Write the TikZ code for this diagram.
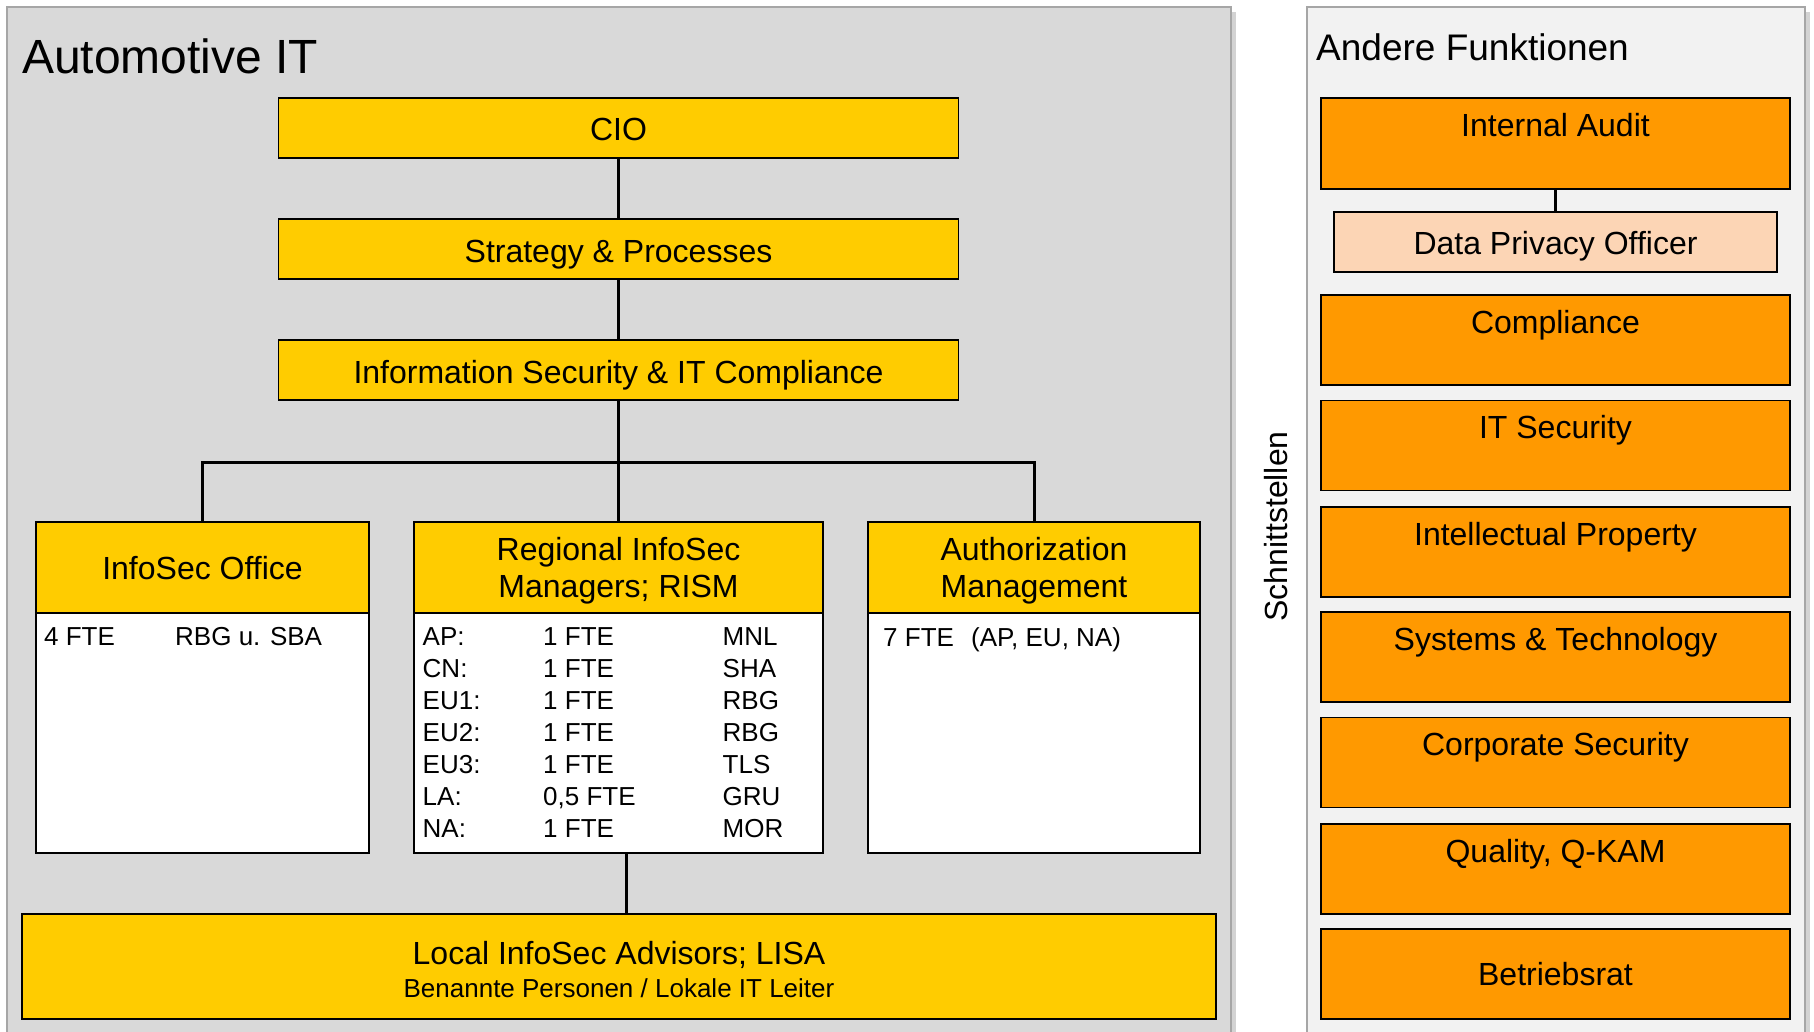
\documentclass[tikz,border=0pt]{standalone}
\usepackage{fontspec}
\setmainfont{Liberation Sans}
\usepackage{tikz}
\usetikzlibrary{shadows}
\pgfdeclarelayer{bg}
\pgfsetlayers{bg,main}
\definecolor{ityellow}{HTML}{FFCC00}
\definecolor{fnorange}{HTML}{FF9900}
\definecolor{fnpeach}{HTML}{FCD5B5}
\definecolor{panelgray}{HTML}{D9D9D9}
\definecolor{panellight}{HTML}{F2F2F2}
\definecolor{paneledge}{HTML}{A6A6A6}

\begin{document}
\begin{tikzpicture}[x=1pt,y=-1pt,
        box/.style={draw, line width=1.5pt, inner sep=0pt, font=\fontsize{32}{37}\selectfont},
        topbox/.style={box, fill=ityellow, minimum width=680pt, minimum height=60pt, text height=26pt, text depth=0pt},
        headbox/.style={box, fill=ityellow, align=center, minimum height=91pt, text depth=0pt},
        bodybox/.style={box, fill=white, minimum height=240pt},
        bodytext/.style={anchor=north west, inner sep=0pt, align=left, font=\fontsize{26}{32}\selectfont},
        funcbox/.style={box, fill=fnorange, minimum width=469pt, minimum height=90pt},
        functop/.style={funcbox, text height=38pt, text depth=52pt},
        panel/.style={line width=1.5pt, draw=paneledge, drop shadow={shadow xshift=5pt, shadow yshift=-5pt, opacity=0.35}},
        conn/.style={line width=3pt}]
        \useasboundingbox (0,0) rectangle (1814,1032);
        % Automotive IT
        \node (ttl) [anchor=base west, inner sep=0pt, font=\fontsize{48}{56}\selectfont] at (22,74) {Automotive IT};
        \node (cio) [topbox] at (618.5,128) {CIO};
        \node (strat) [topbox] at (618.5,249) {Strategy \& Processes};
        \node (isc) [topbox] at (618.5,370) {Information Security \& IT Compliance};
        \coordinate (bus) at (618.5,462);
        \node (isohead) [headbox, minimum width=333pt] at (202.5,567.5) {InfoSec Office};
        \node (isobody) [bodybox, minimum width=333pt] at (202.5,733) {};
        \node (rismhead) [headbox, minimum width=409pt] at (618.5,567.5) {Regional InfoSec\\Managers; RISM};
        \node (rismbody) [bodybox, minimum width=409pt] at (618.5,733) {};
        \node (authhead) [headbox, minimum width=332pt] at (1034,567.5) {Authorization\\Management};
        \node (authbody) [bodybox, minimum width=332pt] at (1034,733) {};
        \node (isotxt) [bodytext] at (44,627) {\makebox[131pt][l]{4 FTE}RBG u. SBA};
        \node (rismtxt) [bodytext] at (422.5,627) {%
                \makebox[120.5pt][l]{AP:}\makebox[179.5pt][l]{1 FTE}MNL\\
                \makebox[120.5pt][l]{CN:}\makebox[179.5pt][l]{1 FTE}SHA\\
                \makebox[120.5pt][l]{EU1:}\makebox[179.5pt][l]{1 FTE}RBG\\
                \makebox[120.5pt][l]{EU2:}\makebox[179.5pt][l]{1 FTE}RBG\\
                \makebox[120.5pt][l]{EU3:}\makebox[179.5pt][l]{1 FTE}TLS\\
                \makebox[120.5pt][l]{LA:}\makebox[179.5pt][l]{0,5 FTE}GRU\\
                \makebox[120.5pt][l]{NA:}\makebox[179.5pt][l]{1 FTE}MOR};
        \node (authtxt) [bodytext] at (883,627) {\makebox[88pt][l]{7 FTE}(AP, EU, NA)};
        \node (lisa) [headbox, minimum width=1194pt, minimum height=105pt] at (619,966.5)
                {\rule{0pt}{28pt}Local InfoSec Advisors; LISA\\[-4pt]\fontsize{26}{30}\selectfont Benannte Personen / Lokale IT Leiter};
        % Andere Funktionen
        \node (schn) [rotate=90, inner sep=0pt, font=\fontsize{32}{37}\selectfont] at (1276,526.5) {Schnittstellen};
        \node (andere) [anchor=base west, inner sep=0pt, font=\fontsize{37}{44}\selectfont] at (1316,61) {Andere Funktionen};
        \node (audit) [functop, minimum height=91pt] at (1555.5,143.5) {Internal Audit};
        \node (dpo) [box, fill=fnpeach, minimum width=443pt, minimum height=60pt, text height=25pt, text depth=0pt] at (1555.5,242) {Data Privacy Officer};
        \node (compl) [functop] at (1555.5,340) {Compliance};
        \node (itsec) [functop] at (1555.5,445.5) {IT Security};
        \node (ip) [functop] at (1555.5,552) {Intellectual Property};
        \node (systech) [functop] at (1555.5,657) {Systems \& Technology};
        \node (corpsec) [functop] at (1555.5,762.5) {Corporate Security};
        \node (qkam) [functop] at (1555.5,869) {Quality, Q-KAM};
        \node (br) [funcbox] at (1555.5,974) {Betriebsrat};
        \begin{pgfonlayer}{bg}
                \fill [panel, fill=panelgray] (7,7) rectangle (1231,1050);
                \fill [panel, fill=panellight] (1307,7) rectangle (1805,1050);
                \draw [conn] (cio) -- (strat);
                \draw [conn] (strat) -- (isc);
                \draw [conn] (isc) -- (rismhead);
                \draw [conn] (isohead.north) |- (bus) -| (authhead.north);
                \draw [conn] ([xshift=7.5pt]rismbody.south) -- ([xshift=7.5pt]rismbody.south |- lisa.north);
                \draw [line width=2.5pt] (audit) -- (dpo);
        \end{pgfonlayer}
\end{tikzpicture}
\end{document}
